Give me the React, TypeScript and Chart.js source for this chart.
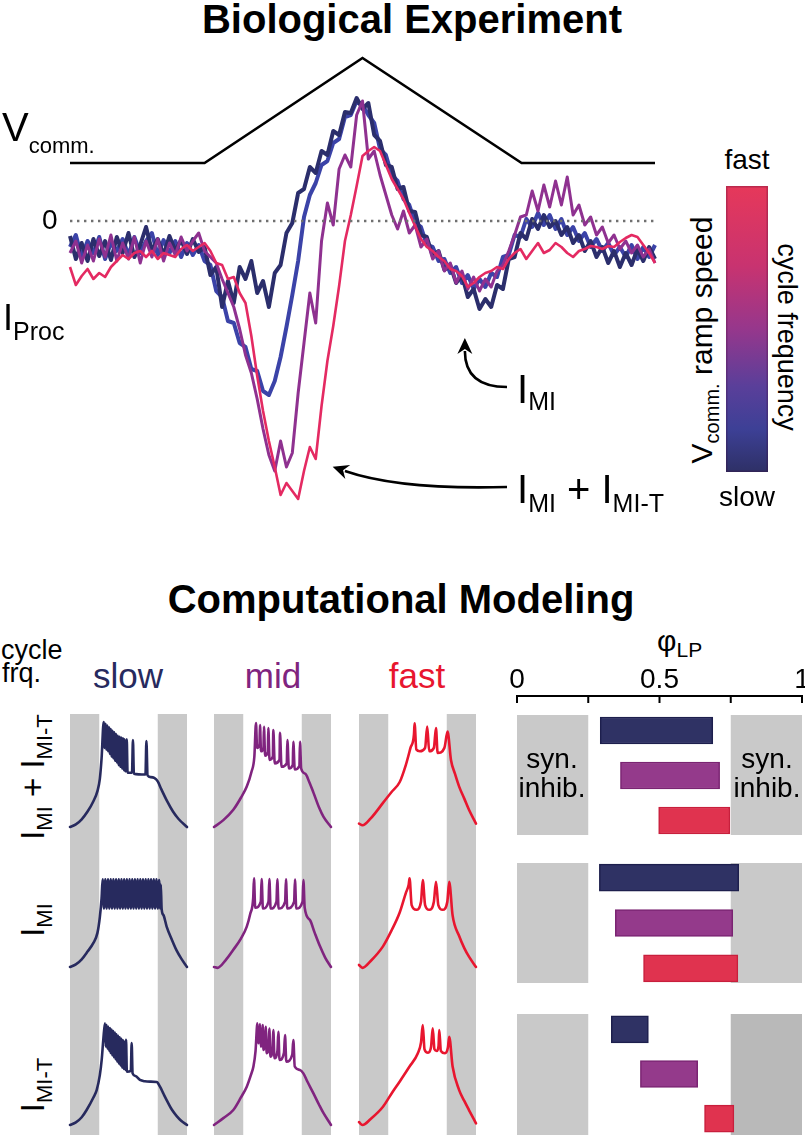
import React, { useEffect, useRef } from 'react';
import { Chart, registerables } from 'chart.js';

Chart.register(...registerables);

const FONT = '"Liberation Sans", Arial, Helvetica, sans-serif';

/* ================= Biological experiment (top panel) ================= */
// time axis: sample index across the sweep (0..100 % of sweep)
const sweepTime = Array.from({ length: 101 }, (_, i) => i);
const vcommTime = [0, 23, 50, 77.2, 100];
const vcommMv = [-60, -60, -20, -60, -60];
const zeroTime = [0, 100];
const zeroCurrent = [0, 0];

// I_Proc traces (arbitrary units, 0 = dotted line), slowest -> fastest ramp
const iProcSlowest = [
  -1.5, -3.8, -2.2, -4.0, -1.8, -3.5, -2.0, -3.9, -1.6, -3.2,
  -1.2, -3.6, -2.4, -0.6, -3.0, -1.8, -3.4, -1.5, -3.0, -1.9,
  -3.3, -1.8, -3.1, -2.6, -5.4, -4.6, -8.6, -6.0, -8.2, -4.6,
  -5.8, -4.0, -7.2, -6.0, -8.6, -5.2, -4.4, -1.2, -0.2, 2.8,
  3.2, 5.4, 4.8, 7.0, 6.6, 9.0, 8.6, 10.9, 10.8, 12.3,
  11.2, 11.8, 8.6, 8.0, 5.6, 5.4, 3.2, 3.4, 1.0, 0.9,
  -1.4, -1.6, -3.5, -3.0, -4.9, -4.4, -6.2, -5.4, -7.6, -6.8,
  -8.8, -7.8, -8.6, -6.4, -6.8, -3.8, -3.6, -1.2, -1.8, 0.2,
  -0.8, 0.6, -0.6, 0.0, -1.4, -0.6, -2.2, -1.4, -3.0, -2.0,
  -3.6, -2.6, -4.2, -3.0, -4.6, -3.2, -4.4, -2.8, -4.0, -2.6,
  -3.8,
];
const iProcSlow = [
  -2.6, -1.4, -3.6, -2.0, -3.2, -1.6, -3.8, -2.2, -3.0, -1.8,
  -3.4, -1.6, -3.2, -2.0, -1.2, -3.4, -1.9, -3.2, -2.0, -3.6,
  -2.2, -3.4, -2.4, -4.0, -4.4, -7.0, -7.6, -10.0, -10.2, -12.2,
  -12.6, -14.8, -15.0, -17.0, -17.4, -16.0, -13.6, -10.6, -7.4, -4.0,
  0.4, 2.6, 3.8, 5.6, 6.0, 7.8, 8.2, 10.4, 10.6, 12.0,
  11.6, 10.6, 9.8, 7.2, 6.6, 4.6, 4.0, 2.2, 1.6, -0.2,
  -0.6, -2.4, -2.6, -4.0, -3.8, -5.2, -4.6, -6.2, -5.4, -6.8,
  -5.8, -6.6, -5.2, -5.6, -3.6, -3.4, -1.4, -1.6, 0.2, -0.6,
  0.8, -0.4, 0.6, -0.8, 0.2, -1.4, -0.6, -2.0, -1.2, -2.6,
  -1.8, -3.0, -2.2, -3.4, -2.6, -3.6, -2.4, -3.8, -2.6, -3.6,
  -2.4,
];
const iProcFast = [
  -3.2, -2.0, -4.2, -2.4, -4.0, -1.8, -3.6, -1.4, -4.0, -2.2,
  -3.8, -1.6, -4.2, -2.0, -3.6, -1.8, -4.0, -2.2, -3.4, -1.6,
  -3.0, -2.0, -1.2, -3.0, -3.6, -4.2, -5.8, -7.2, -8.6, -10.8,
  -13.4, -15.2, -17.8, -20.8, -23.4, -25.0, -22.0, -24.6, -23.2, -17.2,
  -12.2, -7.2, -10.2, -2.0, 1.8, -0.4, 5.2, 6.6, 5.4, 10.6,
  12.0, 6.2, 7.0, 4.6, 2.6, 0.6, -0.8, 1.0, -1.2, -0.4,
  -2.6, -1.8, -3.8, -3.0, -5.0, -4.2, -6.2, -5.0, -6.8, -5.6,
  -7.0, -5.8, -6.6, -5.0, -4.4, -3.0, -1.4, 0.4, 0.6, 3.0,
  1.0, 3.6, 1.4, 4.0, 1.6, 4.4, 0.6, 1.6, -0.4, 0.4,
  -1.4, -0.6, -2.2, -1.4, -2.8, -2.0, -3.2, -2.4, -3.6, -2.8,
  -4.2,
];
const iProcFastest = [
  -4.6, -6.4, -5.5, -4.8, -5.8, -5.2, -5.6, -4.6, -4.0, -3.4,
  -3.8, -3.2, -3.0, -3.6, -3.0, -3.8, -3.2, -3.4, -3.6, -2.8,
  -2.4, -3.0, -2.6, -2.2, -3.0, -4.2, -4.4, -5.8, -5.6, -7.2,
  -8.2, -11.5, -15.5, -19.0, -22.0, -24.6, -27.4, -26.2, -27.0, -27.8,
  -25.0, -22.6, -23.8, -18.5, -14.0, -10.5, -6.5, -2.0, 0.6, 3.5,
  6.5, 7.0, 7.4, 7.0, 5.6, 4.2, 3.2, 2.2, 0.8, -0.5,
  -1.8, -2.6, -3.0, -3.6, -4.0, -4.8, -5.0, -5.5, -6.6, -6.2,
  -5.6, -5.2, -5.0, -4.6, -4.8, -3.8, -3.2, -2.8, -3.8, -3.0,
  -2.2, -3.2, -2.9, -2.2, -2.6, -3.2, -3.6, -3.0, -2.8, -2.5,
  -2.6, -2.8, -2.5, -2.6, -2.1, -1.7, -1.4, -1.6, -2.4, -3.2,
  -4.2,
];

// annotation arrows in data units [time, current]
const arrowToIMI = { from: [74.7, -16.6], bend: [67.5, -16.6], to: [67.5, -13.0] };
const arrowToIMIT = { from: [74.7, -26.6], bend: [56.4, -26.9], to: [47.0, -25.0] };

/* ================= Computational modeling ================= */
// model voltage traces: [phase, mV]
const traceSlowMixed = [
  [0, -60], [0.05, -58.5], [0.1, -55.5], [0.15, -51], [0.2, -45], [0.235, -39], [0.255, -32], [0.27, -20], [0.288, 1],
  [0.296, -14], [0.303, 0], [0.311, -15], [0.318, -1], [0.326, -16], [0.333, -2], [0.341, -17.5], [0.348, -3],
  [0.356, -19], [0.363, -4], [0.371, -20], [0.378, -5], [0.386, -21.5], [0.393, -6], [0.401, -22.5], [0.408, -7],
  [0.416, -24], [0.423, -7.5], [0.431, -25], [0.438, -8], [0.446, -26], [0.453, -8.5], [0.461, -27], [0.466, -9],
  [0.472, -27.5], [0.48, -27.5], [0.485, -9], [0.492, -28.5], [0.53, -28.5], [0.538, -9.5], [0.546, -29],
  [0.645, -29.5], [0.653, -10], [0.663, -30], [0.69, -31], [0.72, -31.5], [0.75, -33.5], [0.78, -38],
  [0.83, -45], [0.88, -51], [0.93, -55.5], [1, -60],
];
const traceMidMixed = [
  [0, -60], [0.08, -56], [0.165, -50], [0.23, -43], [0.28, -36.5], [0.32, -28], [0.345, -19], [0.359, 0.5],
  [0.368, -14], [0.389, -12], [0.393, -0.7], [0.402, -16], [0.423, -14], [0.427, -1.7], [0.437, -18.5],
  [0.46, -16.5], [0.464, -2.4], [0.475, -21], [0.503, -19], [0.507, -3.6], [0.519, -23], [0.56, -21],
  [0.564, -5.3], [0.577, -25], [0.622, -23], [0.627, -9.4], [0.64, -26], [0.673, -24], [0.678, -10.4],
  [0.69, -26.5], [0.73, -24.5], [0.735, -10.4], [0.745, -26], [0.78, -29], [0.815, -34], [0.85, -40],
  [0.9, -49], [0.935, -54], [1, -60],
];
const traceFastMixed = [
  [0, -58], [0.03, -59], [0.1, -55], [0.205, -46], [0.28, -39.5], [0.347, -34], [0.4, -24], [0.44, -14],
  [0.47, -6], [0.475, 0.3], [0.49, -15], [0.52, -16], [0.565, -14], [0.583, -1.6], [0.6, -16], [0.64, -14],
  [0.658, -2.5], [0.672, -17], [0.73, -14], [0.757, -4.5], [0.786, -21], [0.82, -29], [0.856, -36.5],
  [0.9, -43.5], [0.94, -50], [1, -58],
];
const traceSlowMI = [
  [0, -60], [0.05, -58.5], [0.1, -55.5], [0.15, -51], [0.2, -46], [0.235, -40], [0.255, -31], [0.27, -20], [0.279, -9],
  [0.29, -26], [0.302, -9], [0.313, -26], [0.325, -9], [0.336, -26], [0.348, -9], [0.359, -26], [0.371, -9],
  [0.382, -26], [0.394, -9], [0.405, -26], [0.417, -9], [0.428, -26], [0.44, -9], [0.451, -26], [0.463, -9],
  [0.474, -26], [0.486, -9], [0.497, -26], [0.509, -9], [0.52, -26], [0.532, -9], [0.543, -26], [0.555, -9],
  [0.566, -26], [0.578, -9], [0.589, -26], [0.601, -9], [0.612, -26], [0.624, -9], [0.635, -26], [0.647, -9],
  [0.658, -26], [0.67, -9], [0.681, -26], [0.693, -9], [0.704, -26], [0.716, -9], [0.727, -26], [0.739, -9],
  [0.75, -26], [0.762, -9.5], [0.77, -26], [0.776, -12], [0.783, -26],
  [0.8, -30], [0.826, -36.5], [0.87, -44], [0.912, -50.5], [0.95, -55], [1, -60],
];
const traceMidMI = [
  [0, -60], [0.03, -60.5], [0.1, -56], [0.165, -50], [0.23, -43.5], [0.28, -36.5], [0.31, -29], [0.335, -20],
  [0.342, -8.5], [0.352, -25.5], [0.4, -22], [0.407, -8.8], [0.418, -26], [0.466, -22], [0.473, -8.8],
  [0.484, -26], [0.534, -22], [0.541, -9], [0.552, -26], [0.608, -22], [0.615, -9], [0.626, -26],
  [0.685, -22], [0.692, -9.2], [0.703, -26], [0.757, -22], [0.764, -9.4], [0.775, -25.5], [0.82, -32.7],
  [0.86, -40], [0.906, -48], [0.95, -54.5], [1, -60],
];
const traceFastMI = [
  [0, -58.8], [0.03, -60.5], [0.1, -56.5], [0.205, -48], [0.28, -38.5], [0.347, -28.5], [0.4, -17],
  [0.425, -12], [0.432, -8.4], [0.45, -24], [0.49, -26.7], [0.53, -22], [0.545, -9.4], [0.565, -24],
  [0.6, -26.7], [0.64, -22], [0.658, -10.4], [0.678, -24], [0.715, -26.7], [0.755, -22], [0.771, -10.4],
  [0.8, -30], [0.856, -42], [0.9, -49], [0.94, -54], [1, -60],
];
const traceSlowMIT = [
  [0, -60], [0.05, -58.5], [0.1, -55.5], [0.142, -51.3], [0.2, -44], [0.228, -39.7], [0.255, -31], [0.271, -22],
  [0.285, -10], [0.299, -0.9], [0.306, -14.5], [0.313, -1.8], [0.32, -15.7], [0.327, -2.7], [0.334, -17],
  [0.341, -3.6], [0.348, -18.2], [0.355, -4.5], [0.362, -19.4], [0.369, -5.4], [0.376, -20.6], [0.383, -6.3],
  [0.39, -21.8], [0.397, -7.2], [0.404, -23], [0.411, -8.1], [0.418, -24.2], [0.425, -9], [0.432, -25.4],
  [0.439, -9.9], [0.446, -26.6], [0.453, -10.8], [0.46, -27.4], [0.467, -11.6], [0.474, -28], [0.479, -10.5],
  [0.486, -29], [0.52, -28.5], [0.527, -12.4], [0.535, -30], [0.56, -31.5], [0.598, -33.8], [0.64, -34.6],
  [0.684, -34.8], [0.741, -35], [0.769, -37.7], [0.8, -42], [0.826, -45.5], [0.87, -51], [0.912, -54.8],
  [0.95, -57.5], [1, -60],
];
const traceMidMIT = [
  [0, -60], [0.08, -56], [0.165, -51.3], [0.23, -44], [0.28, -37.7], [0.315, -31], [0.337, -26], [0.355, -17],
  [0.371, -0.9], [0.378, -12.5], [0.389, -8], [0.393, -1.3], [0.4, -14.5], [0.411, -10], [0.416, -1.9],
  [0.423, -16.4], [0.436, -12], [0.442, -2.9], [0.45, -18.3], [0.466, -14], [0.473, -3.9], [0.482, -20.3],
  [0.5, -16], [0.507, -4.8], [0.517, -21.2], [0.542, -17], [0.55, -5.8], [0.56, -22.2], [0.598, -18],
  [0.607, -7.7], [0.618, -23.2], [0.669, -19], [0.678, -10.6], [0.69, -26], [0.735, -28], [0.764, -30],
  [0.8, -35], [0.85, -41.6], [0.9, -48.5], [0.935, -53], [1, -60],
];
const traceFastMIT = [
  [0, -58.3], [0.03, -60], [0.1, -56.5], [0.205, -49.4], [0.28, -41.5], [0.347, -34.8], [0.432, -26],
  [0.503, -18.3], [0.53, -12], [0.545, -1.9], [0.56, -16], [0.59, -18], [0.615, -15], [0.63, -3.8],
  [0.645, -16], [0.665, -17], [0.68, -14], [0.686, -4.8], [0.7, -17], [0.735, -18.3], [0.76, -15],
  [0.771, -8.7], [0.8, -26], [0.856, -39.7], [0.9, -46], [0.94, -51.3], [1, -59],
];

// LP burst phase (start, end) per cycle frequency
const cycleFrequencies = ['slow', 'mid', 'fast'];
const burstPhaseMixed = [[0.292, 0.687], [0.363, 0.711], [0.497, 0.747]];
const burstPhaseMI = [[0.289, 0.778], [0.345, 0.757], [0.444, 0.775]];
const burstPhaseMIT = [[0.331, 0.461], [0.433, 0.634], [0.658, 0.761]];
const inhibitionPhases = [[0, 0.25], [0.75, 1]];
const phaseTicks = [0, 0.25, 0.5, 0.75, 1];
const phaseTickLabels = ['0', '', '0.5', '', '1'];

/* ================= styles ================= */
const NAVY = '#2b2e6c';
const BLUE = '#3b43a8';
const PURPLE = '#8f3190';
const PINK = '#e42a62';
const SLOW_C = '#272a5e';
const MID_C = '#80247f';
const FAST_C = '#e8162f';
const BAR_FILL = ['#2f3264', '#943a8b', '#e0334f'];
const BAR_EDGE = ['#1d1f4d', '#7a2472', '#c81f3c'];
const BAND = '#c9c9c9';
const BAND_DARK = '#b9b9b9';

const pairs = (xs: number[], ys: number[]) => xs.map((x, i) => ({ x, y: ys[i] }));

const baseOptions: any = {
  animation: false,
  responsive: false,
  maintainAspectRatio: false,
  plugins: { legend: { display: false }, tooltip: { enabled: false } },
  events: [],
};

/* ---------------- top chart ---------------- */
const arrowPlugin = {
  id: 'arrows',
  afterDatasetsDraw(chart: any) {
    const { ctx } = chart;
    const xs = chart.scales.x;
    const ys = chart.scales.y;
    const P = (p: number[]) => [xs.getPixelForValue(p[0]), ys.getPixelForValue(p[1])];
    ctx.save();
    ctx.strokeStyle = '#000';
    ctx.fillStyle = '#000';
    ctx.lineWidth = 2.6;
    for (const a of [arrowToIMI, arrowToIMIT]) {
      const [x0, y0] = P(a.from);
      const [x1, y1] = P(a.bend);
      const [x2, y2] = P(a.to);
      ctx.beginPath();
      ctx.moveTo(x0, y0);
      ctx.quadraticCurveTo(x1, y1, x2, y2);
      ctx.stroke();
      let dx = x2 - x1;
      let dy = y2 - y1;
      const L = Math.hypot(dx, dy);
      dx /= L;
      dy /= L;
      const px = -dy;
      const py = dx;
      ctx.beginPath();
      ctx.moveTo(x2 + dx * 13, y2 + dy * 13);
      ctx.lineTo(x2 + px * 7.5 - dx * 3, y2 + py * 7.5 - dy * 3);
      ctx.lineTo(x2 + dx * 2, y2 + dy * 2);
      ctx.lineTo(x2 - px * 7.5 - dx * 3, y2 - py * 7.5 - dy * 3);
      ctx.closePath();
      ctx.fill();
    }
    ctx.restore();
  },
};

function TopChart() {
  const ref = useRef<HTMLCanvasElement>(null);
  useEffect(() => {
    const trace = (vals: number[], color: string, w: number) => ({
      data: pairs(sweepTime, vals),
      borderColor: color,
      borderWidth: w,
      pointRadius: 0,
      tension: 0,
      borderJoinStyle: 'round',
    });
    const chart = new Chart(ref.current as HTMLCanvasElement, {
      type: 'line',
      data: {
        datasets: [
          {
            data: pairs(zeroTime, zeroCurrent),
            borderColor: '#707070',
            borderWidth: 2.4,
            borderDash: [2.4, 4.6],
            pointRadius: 0,
          } as any,
          trace(iProcFastest, PINK, 2.6),
          trace(iProcFast, PURPLE, 3),
          trace(iProcSlowest, NAVY, 4),
          trace(iProcSlow, BLUE, 4),
          {
            data: pairs(vcommTime, vcommMv),
            yAxisID: 'yv',
            borderColor: '#000',
            borderWidth: 2.6,
            pointRadius: 0,
          },
        ],
      },
      options: {
        ...baseOptions,
        layout: { padding: 0 },
        scales: {
          x: { type: 'linear', min: -1.709, max: 102.564, display: false },
          y: { type: 'linear', min: -29.9, max: 18.1, display: false },
          yv: { type: 'linear', axis: 'y', min: -196, max: -13.143, display: false },
        },
      },
      plugins: [arrowPlugin],
    } as any);
    return () => chart.destroy();
  }, []);
  return (
    <canvas
      ref={ref}
      width={610}
      height={480}
      style={{ position: 'absolute', left: 60, top: 40, width: 610, height: 480 }}
    />
  );
}

/* ---------------- model voltage columns ---------------- */
const COL_TOP = 714;
const COL_H = 421;
const ROW_REST_PX = [113, 253, 411];
const PX_PER_MV = 1.72;

function VoltageColumn({ left, color, rows }: { left: number; color: string; rows: number[][][] }) {
  const ref = useRef<HTMLCanvasElement>(null);
  useEffect(() => {
    const scales: any = { x: { type: 'linear', min: 0, max: 1, display: false } };
    ROW_REST_PX.forEach((b, i) => {
      const max = b / PX_PER_MV - 60;
      scales['yRow' + i] = {
        type: 'linear', axis: 'y', position: 'left', display: false, max, min: max - COL_H / PX_PER_MV,
      };
    });
    const bands = {
      id: 'bands',
      beforeDatasetsDraw(chart: any) {
        const { ctx, chartArea } = chart;
        const xs = chart.scales.x;
        ctx.save();
        ctx.fillStyle = BAND;
        for (const [a, b] of inhibitionPhases) {
          const x1 = xs.getPixelForValue(a);
          const x2 = xs.getPixelForValue(b);
          ctx.fillRect(x1, chartArea.top, x2 - x1, chartArea.bottom - chartArea.top);
        }
        ctx.restore();
      },
    };
    const chart = new Chart(ref.current as HTMLCanvasElement, {
      type: 'line',
      data: {
        datasets: rows.map((pts, i) => ({
          data: pts.map(([p, v]) => ({ x: p, y: v })),
          yAxisID: 'yRow' + i,
          borderColor: color,
          borderWidth: 2.6,
          pointRadius: 0,
          cubicInterpolationMode: 'monotone',
          borderJoinStyle: 'round',
          borderCapStyle: 'round',
          clip: 6,
        })),
      },
      options: { ...baseOptions, layout: { padding: { left: 4, right: 4, top: 0, bottom: 0 } }, scales },
      plugins: [bands],
    } as any);
    return () => chart.destroy();
  }, []);
  return (
    <canvas
      ref={ref}
      width={125}
      height={COL_H}
      style={{ position: 'absolute', left: left - 4, top: COL_TOP, width: 125, height: COL_H }}
    />
  );
}

/* ---------------- phase bar rows ---------------- */
const PH_LEFT = 517;
const PH_W = 285;
const AXIS_SPACE = 88;

function PhaseRow({
  areaTop, areaH, bars, insetTop, insetBottom, rectColors, withAxis,
}: {
  areaTop: number; areaH: number; bars: number[][]; insetTop: number; insetBottom: number;
  rectColors: string[]; withAxis: boolean;
}) {
  const ref = useRef<HTMLCanvasElement>(null);
  const padTop = withAxis ? AXIS_SPACE : 0;
  const canvasH = areaH + padTop;
  const canvasLeft = PH_LEFT - 12;
  const canvasW = 805 - canvasLeft;
  useEffect(() => {
    const rects = {
      id: 'inhib',
      beforeDatasetsDraw(chart: any) {
        const { ctx, chartArea } = chart;
        const xs = chart.scales.x;
        ctx.save();
        inhibitionPhases.forEach(([a, b], i) => {
          const x1 = xs.getPixelForValue(a);
          const x2 = xs.getPixelForValue(b);
          ctx.fillStyle = rectColors[i];
          const y1 = chartArea.top + insetTop;
          ctx.fillRect(x1, y1, x2 - x1, chartArea.bottom - insetBottom - y1);
        });
        ctx.restore();
      },
      afterDraw(chart: any) {
        if (!withAxis) return;
        const { ctx, chartArea } = chart;
        const xs = chart.scales.x;
        const ay = chartArea.top - 12;
        ctx.save();
        ctx.strokeStyle = '#000';
        ctx.lineWidth = 2;
        ctx.beginPath();
        ctx.moveTo(xs.getPixelForValue(0) - 1, ay);
        ctx.lineTo(xs.getPixelForValue(1) + 1, ay);
        ctx.stroke();
        ctx.fillStyle = '#000';
        ctx.font = `28px ${FONT}`;
        ctx.textAlign = 'center';
        ctx.textBaseline = 'alphabetic';
        phaseTicks.forEach((t, i) => {
          const px = xs.getPixelForValue(t);
          ctx.beginPath();
          ctx.moveTo(px, ay);
          ctx.lineTo(px, ay + 7);
          ctx.stroke();
          if (phaseTickLabels[i]) ctx.fillText(phaseTickLabels[i], px, ay - 8);
        });
        ctx.restore();
      },
    };
    const chart = new Chart(ref.current as HTMLCanvasElement, {
      type: 'bar',
      data: {
        labels: cycleFrequencies,
        datasets: [
          {
            data: bars,
            backgroundColor: BAR_FILL,
            borderColor: BAR_EDGE,
            borderWidth: 1.5,
            borderSkipped: false,
            barThickness: 27,
          },
        ],
      },
      options: {
        ...baseOptions,
        indexAxis: 'y',
        layout: { padding: { left: 12, right: canvasW - 12 - PH_W, top: padTop, bottom: 0 } },
        scales: {
          x: { type: 'linear', min: 0, max: 1, display: false },
          y: { display: false },
        },
      },
      plugins: [rects],
    } as any);
    return () => chart.destroy();
  }, []);
  return (
    <canvas
      ref={ref}
      width={canvasW}
      height={canvasH}
      style={{ position: 'absolute', left: canvasLeft, top: areaTop - padTop, width: canvasW, height: canvasH }}
    />
  );
}

/* ---------------- text helpers ---------------- */
function Sub({ size, dy, children }: { size: number; dy: number; children: any }) {
  return <span style={{ fontSize: size, position: 'relative', top: dy }}>{children}</span>;
}

function Label({
  x, base, size, color = '#000', bold = false, center = false, children,
}: { x: number; base: number; size: number; color?: string; bold?: boolean; center?: boolean; children: any }) {
  return (
    <div
      style={{
        position: 'absolute', left: x, top: base - 0.8465 * size, fontSize: size, lineHeight: 1,
        fontWeight: bold ? 700 : 400, color, whiteSpace: 'nowrap',
        transform: center ? 'translateX(-50%)' : undefined,
      }}
    >
      {children}
    </div>
  );
}

function RotLabel({ cx, cy, size, angle, children }: { cx: number; cy: number; size: number; angle: number; children: any }) {
  return (
    <div
      style={{
        position: 'absolute', left: cx, top: cy, fontSize: size, lineHeight: 1, whiteSpace: 'nowrap',
        transform: `translate(-50%, -50%) rotate(${angle}deg)`, color: '#000',
      }}
    >
      {children}
    </div>
  );
}

export default function App() {
  return (
    <div
      style={{
        position: 'absolute', left: 0, top: 0, width: 805, height: 1135, overflow: 'hidden',
        background: '#fff', fontFamily: FONT, color: '#000',
      }}
    >
      {/* ---------- Biological experiment ---------- */}
      <Label x={412} base={33} size={40} bold center>Biological Experiment</Label>
      <TopChart />
      <Label x={2} base={141} size={40}>V<Sub size={22} dy={12}>comm.</Sub></Label>
      <Label x={42} base={230} size={28}>0</Label>
      <Label x={3} base={330} size={36}>I<Sub size={25} dy={10}>Proc</Sub></Label>
      <Label x={517} base={403} size={40}>I<Sub size={25} dy={7}>MI</Sub></Label>
      <Label x={517} base={503} size={40}>
        I<Sub size={25} dy={9}>MI</Sub> + I<Sub size={25} dy={9}>MI-T</Sub>
      </Label>

      {/* colour bar */}
      <Label x={747} base={170} size={28} center>fast</Label>
      <div
        style={{
          position: 'absolute', left: 726, top: 186, width: 42, height: 286, boxSizing: 'border-box',
          background: 'linear-gradient(to bottom, #e6385a 0%, #c83370 28%, #96378c 50%, #5a3f9a 70%, #3d4096 85%, #2e3066 100%)',
          boxShadow: 'inset 0 0 0 1.5px rgba(60,0,40,0.25)',
        }}
      />
      <Label x={747} base={507} size={28} center>slow</Label>
      <RotLabel cx={701.6} cy={340} size={30} angle={-90}>
        V<Sub size={20} dy={7}>comm.</Sub> ramp speed
      </RotLabel>
      <RotLabel cx={786} cy={337} size={27} angle={90}>cycle frequency</RotLabel>

      {/* ---------- Computational modeling ---------- */}
      <Label x={401} base={613} size={40} bold center>Computational Modeling</Label>
      <Label x={1} base={660} size={27}>cycle</Label>
      <Label x={2} base={683} size={27}>frq.</Label>
      <Label x={128} base={688} size={35} color={SLOW_C} center>slow</Label>
      <Label x={273} base={688} size={35} color={MID_C} center>mid</Label>
      <Label x={417} base={688} size={35} color={FAST_C} center>fast</Label>

      <VoltageColumn left={70} color={SLOW_C} rows={[traceSlowMixed, traceSlowMI, traceSlowMIT]} />
      <VoltageColumn left={214} color={MID_C} rows={[traceMidMixed, traceMidMI, traceMidMIT]} />
      <VoltageColumn left={359} color={FAST_C} rows={[traceFastMixed, traceFastMI, traceFastMIT]} />

      <RotLabel cx={31.6} cy={777} size={33} angle={-90}>
        I<Sub size={22} dy={8}>MI</Sub> + I<Sub size={22} dy={8}>MI-T</Sub>
      </RotLabel>
      <RotLabel cx={31.6} cy={920} size={33} angle={-90}>
        I<Sub size={22} dy={8}>MI</Sub>
      </RotLabel>
      <RotLabel cx={31.6} cy={1085} size={33} angle={-90}>
        I<Sub size={22} dy={8}>MI-T</Sub>
      </RotLabel>

      <Label x={657} base={651} size={30}>φ<Sub size={21} dy={6}>LP</Sub></Label>
      <PhaseRow areaTop={708} areaH={135} bars={burstPhaseMixed} insetTop={7} insetBottom={8}
        rectColors={[BAND, BAND]} withAxis />
      <PhaseRow areaTop={855} areaH={136} bars={burstPhaseMI} insetTop={8} insetBottom={8}
        rectColors={[BAND, BAND]} withAxis={false} />
      <PhaseRow areaTop={1007} areaH={134} bars={burstPhaseMIT} insetTop={7} insetBottom={0}
        rectColors={[BAND, BAND_DARK]} withAxis={false} />

      <Label x={552} base={769} size={28} center>syn.</Label>
      <Label x={552} base={798} size={28} center>inhib.</Label>
      <Label x={767} base={769} size={28} center>syn.</Label>
      <Label x={767} base={798} size={28} center>inhib.</Label>
    </div>
  );
}
